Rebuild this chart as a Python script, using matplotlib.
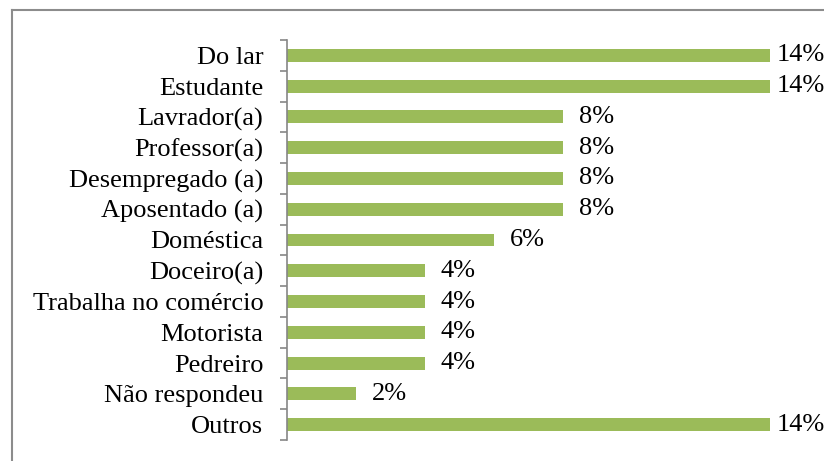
#!/usr/bin/env python3
"""Occupation distribution, horizontal bar chart."""

import matplotlib
matplotlib.use("Agg")
import matplotlib.pyplot as plt
from matplotlib.lines import Line2D
import numpy as np


CATEGORIES = [
    "Do lar",
    "Estudante",
    "Lavrador(a)",
    "Professor(a)",
    "Desempregado (a)",
    "Aposentado (a)",
    "Doméstica",
    "Doceiro(a)",
    "Trabalha no comércio",
    "Motorista",
    "Pedreiro",
    "Não respondeu",
    "Outros",
]
PERCENTS = [14, 14, 8, 8, 8, 8, 6, 4, 4, 4, 4, 2, 14]

BAR_COLOR = "#9BBB59"
AXIS_COLOR = "#868686"
FONT_SIZE = 19

W, H = 824, 461


def main() -> None:
    plt.rcParams["font.family"] = ["Liberation Serif", "DejaVu Serif"]
    fig = plt.figure(figsize=(W / 100, H / 100), dpi=100)

    # outer chart frame (only left and top edges visible in the crop)
    fig.add_artist(Line2D([12 / W, 12 / W], [0, 1 - 10 / H], transform=fig.transFigure,
                          color="#8c8c8c", linewidth=1.5))
    fig.add_artist(Line2D([12 / W, 1], [1 - 10 / H, 1 - 10 / H], transform=fig.transFigure,
                          color="#8c8c8c", linewidth=1.5))

    left, right = 287 / W, 839 / W
    top, bottom = 1 - 40 / H, 1 - 440 / H
    ax = fig.add_axes([left, bottom, right - left, top - bottom])

    n = len(CATEGORIES)
    y = np.arange(n)
    ax.barh(y, PERCENTS, height=0.42, color=BAR_COLOR)
    ax.set_xlim(0, 16)
    ax.set_ylim(n - 0.5, -0.5)

    # labels on the longest bars are pulled in so they stay inside the frame
    top_val = max(PERCENTS)
    for yi, val in zip(y, PERCENTS):
        offset = 5 if val == top_val else 11.5
        ax.annotate(f"{val}%", (val, yi), xytext=(offset, 0), textcoords="offset points",
                    ha="left", va="center", fontsize=FONT_SIZE)

    ax.set_yticks(y)
    ax.set_yticklabels(CATEGORIES, fontsize=FONT_SIZE)
    ax.tick_params(axis="y", which="major", length=0, pad=17)
    ax.set_yticks(np.arange(n + 1) - 0.5, minor=True)
    ax.tick_params(axis="y", which="minor", length=5, width=1.2, color=AXIS_COLOR)
    ax.set_xticks([])

    for side in ["top", "right", "bottom"]:
        ax.spines[side].set_visible(False)
    ax.spines["left"].set_color(AXIS_COLOR)
    ax.spines["left"].set_linewidth(1.2)

    fig.savefig("out.png", dpi=100)
    plt.close(fig)


if __name__ == "__main__":
    main()
